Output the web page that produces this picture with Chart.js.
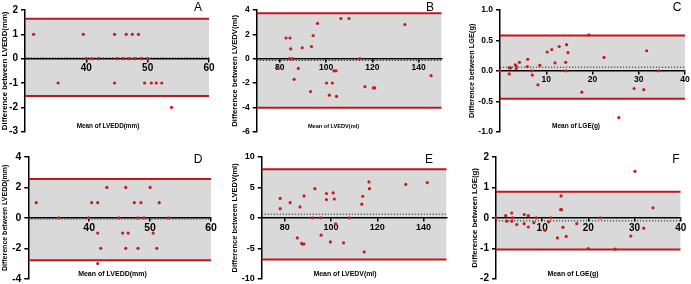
<!DOCTYPE html>
<html>
<head>
<meta charset="utf-8">
<script src="https://cdn.jsdelivr.net/npm/chart.js@4.4.0/dist/chart.umd.min.js"></script>
<style>
    html, body { margin: 0; padding: 0; background: #fff; }
    #wrap { position: relative; width: 691px; height: 284px; }
    .panel { position: absolute; }
</style>
</head>
<body>
<div id="wrap">
    <div class="panel" style="left:0;top:0;width:230px;height:142px"><canvas id="chartA"></canvas></div>
    <div class="panel" style="left:230px;top:0;width:230px;height:142px"><canvas id="chartB"></canvas></div>
    <div class="panel" style="left:460px;top:0;width:231px;height:142px"><canvas id="chartC"></canvas></div>
    <div class="panel" style="left:0;top:142px;width:230px;height:142px"><canvas id="chartD"></canvas></div>
    <div class="panel" style="left:230px;top:142px;width:230px;height:142px"><canvas id="chartE"></canvas></div>
    <div class="panel" style="left:460px;top:142px;width:231px;height:142px"><canvas id="chartF"></canvas></div>
</div>
<script>
// ---- data ----
// A: LVEDD (mm)
const aMean = [31.4, 35.4, 39.5, 40, 40.9, 42, 44.6, 44.6, 45, 46, 46.5, 47, 47.5, 47.9, 48.5, 49, 49.5, 50, 50.6, 51.4, 52.3, 53.9];
const aDiff = [1, -1, 1, 0, 0, 0, 1, -1, 0, 0, 1, 0, 1, 0, 1, 0, -1, 0, -1, -1, -1, -2];
const aLimits = [1.64, -1.53];
const aBias = 0.03;
const aXTicks = [40, 50, 60];
const aYTicks = [-3, -2, -1, 0, 1, 2];

// B: LVEDV (ml)
const bMean = [82.7, 84.4, 84.7, 84.1, 85.5, 79.3, 86.2, 88, 89.7, 93.3, 93.7, 94.4, 96.3, 100.2, 101.4, 102.7, 103.4, 104.3, 104.5, 106.4, 109.9, 114.6, 116.8, 120.4, 121, 134.1, 145.4];
const bDiff = [1.7, 1.7, 0.8, 0, 0, -0.8, -1.7, -0.8, 0.9, -2.7, 1.0, 1.9, 2.9, -2.0, -3.0, -2.0, -1.0, -1.0, -3.1, 3.3, 3.3, 0, -2.3, -2.4, -2.4, 2.8, -1.4];
const bLimits = [3.73, -4.03];
const bBias = -0.15;
const bXTicks = [80, 100, 120, 140];
const bYTicks = [-6, -4, -2, 0, 2, 4];

// C: LGE (g)
const cMean = [0, 2.0, 2.3, 2.0, 3.3, 3.5, 3.5, 4.2, 6.0, 5.9, 6.8, 7.0, 8.2, 8.6, 10.2, 11.2, 11.9, 12.8, 14.2, 14.4, 14.2, 14.7, 17.7, 19.2, 22.5, 25.7, 29.0, 31.1, 31.7, 34.3];
const cDiff = [0, 0.05, 0.05, -0.05, 0.1, 0.08, 0.04, 0.14, 0.19, 0.07, 0, -0.07, -0.23, 0.09, 0.31, 0.35, 0.13, 0.40, 0.14, 0.43, 0, 0.30, -0.35, 0.59, 0.22, -0.77, -0.29, -0.31, 0.33, 0];
const cLimits = [0.58, -0.46];
const cBias = 0.06;
const cXTicks = [10, 20, 30, 40];
const cYTicks = [-1, -0.5, 0, 0.5, 1];

// D: LVEDD (mm)
const dMean = [31.3, 35.0, 39.9, 40.4, 41.4, 41.4, 41.9, 41.4, 42.9, 44.9, 45.5, 46.0, 46.4, 46.0, 47.4, 48.0, 48.0, 48.5, 49.0, 50.0, 50.5, 51.1, 51.5, 53.0];
const dDiff = [1, 0, 0, 1, 1, -1, -2, -3, 2, 0, -1, 2, -1, -2, 1, 0, -2, 1, 0, 2, -1, -2, 1, 0];
const dLimits = [2.55, -2.78];
const dBias = -0.08;
const dXTicks = [40, 50, 60];
const dYTicks = [-4, -2, 0, 2, 4];

// E: LVEDV (ml)
const eMean = [78.0, 78.0, 82.3, 86.6, 88.3, 85.4, 87.3, 88.3, 87.6, 91.9, 93.0, 95.4, 95.7, 98.0, 98.0, 99.7, 100.9, 101.4, 102.0, 105.4, 107.9, 113.3, 113.7, 114.3, 116.6, 116.4, 132.3, 141.6];
const eDiff = [3.2, 1.5, 2.5, 1.8, 3.6, -3.3, -4.2, -4.3, -4.3, 0, 4.8, 0, -2.85, 4.0, 3.0, -3.95, 4.1, 3.1, -1.0, -4.1, 0, 2.25, 3.55, -5.6, 4.8, 5.9, 5.5, 5.8];
const eLimits = [8.0, -6.85];
const eBias = 0.6;
const eXTicks = [80, 100, 120, 140];
const eYTicks = [-10, -5, 0, 5, 10];

// F: LGE (g)
const fMean = [0, 2.1, 2.3, 3.4, 3.4, 3.6, 4.5, 6.1, 6.1, 7.0, 7.0, 8.2, 8.7, 10.6, 11.4, 11.9, 13.3, 14.0, 14.2, 14.1, 14.5, 15.2, 17.5, 20.0, 22.6, 25.8, 29.2, 30.1, 32.0, 34.0];
const fDiff = [0, 0.07, -0.11, 0.16, -0.11, 0, -0.22, 0.11, -0.19, 0.07, -0.3, -0.16, 0, -0.41, -0.13, 0, -0.66, 0.27, 0.27, 0.72, -0.31, -0.61, -0.19, -1.01, 0, -1.03, -0.6, 1.53, -0.34, 0.33];
const fLimits = [0.86, -1.04];
const fBias = -0.1;
const fXTicks = [10, 20, 30, 40];
const fYTicks = [-2, -1, 0, 1, 2];

const RED = '#c0161c';
const DOT = '#c41e1e';
const BAND = '#d9d9d9';
const FONT = '"Liberation Sans", Arial, sans-serif';

// panel letter + x title drawn inside the plot
const panelText = {
    id: 'panelText',
    afterDraw(chart, args, opts) {
        const ctx = chart.ctx;
        ctx.save();
        ctx.fillStyle = '#000';
        ctx.textAlign = 'center';
        ctx.textBaseline = 'middle';
        ctx.font = 'bold ' + opts.titleSize + 'px ' + FONT;
        ctx.fillText(opts.xTitle, opts.titleX, opts.titleY);
        ctx.font = '12px ' + FONT;
        ctx.fillText(opts.letter, opts.letterX, opts.letterY);
        ctx.restore();
    }
};

function makePanel(id, p) {
    const xMin = p.xRange[0], xMax = p.xRange[1];
    new Chart(document.getElementById(id), {
        type: 'scatter',
        data: {
            datasets: [
                {
                    data: p.mean.map((v, i) => ({ x: v, y: p.diff[i] })),
                    pointRadius: 1.6,
                    pointBackgroundColor: DOT,
                    pointBorderWidth: 0,
                    clip: 4
                },
                {
                    data: [{ x: xMin, y: p.bias }, { x: xMax, y: p.bias }],
                    showLine: true,
                    pointRadius: 0,
                    borderColor: '#222',
                    borderWidth: 1,
                    borderDash: [1.2, 1.8]
                },
                {
                    data: [{ x: xMin, y: p.limits[0] }, { x: xMax, y: p.limits[0] }],
                    showLine: true,
                    pointRadius: 0,
                    borderColor: RED,
                    borderWidth: 2,
                    fill: '+1',
                    backgroundColor: BAND
                },
                {
                    data: [{ x: xMin, y: p.limits[1] }, { x: xMax, y: p.limits[1] }],
                    showLine: true,
                    pointRadius: 0,
                    borderColor: RED,
                    borderWidth: 2,
                    fill: false
                }
            ]
        },
        options: {
            animation: false,
            responsive: true,
            maintainAspectRatio: false,
            events: [],
            layout: { padding: { left: 0, top: p.pad[0], right: p.pad[1], bottom: p.pad[2] } },
            scales: {
                x: {
                    type: 'linear',
                    position: { y: 0 },
                    min: xMin,
                    max: xMax,
                    afterBuildTicks: s => { s.ticks = p.xTicks.map(v => ({ value: v })); },
                    afterFit: s => { s.paddingLeft = 0; s.paddingRight = 0; },
                    ticks: { color: '#000', padding: 1, maxRotation: 0, font: { family: FONT, size: p.tickSize, weight: 'bold' } },
                    grid: { drawOnChartArea: false, drawTicks: true, tickLength: 3, color: '#000', lineWidth: 1.5 },
                    border: { color: '#000', width: 1.5 }
                },
                y: {
                    min: p.yTicks[0],
                    max: p.yTicks[p.yTicks.length - 1],
                    afterBuildTicks: s => { s.ticks = p.yTicks.map(v => ({ value: v })); },
                    afterFit: s => { s.width = p.axisX; s.paddingTop = 0; s.paddingBottom = 0; },
                    ticks: {
                        color: '#000', padding: 3,
                        font: { family: FONT, size: p.tickSize, weight: 'bold' },
                        callback: v => p.decimals ? v.toFixed(p.decimals) : String(v)
                    },
                    grid: { drawOnChartArea: false, drawTicks: true, tickLength: 4, color: '#000', lineWidth: 1.5 },
                    border: { color: '#000', width: 1.5 },
                    title: {
                        display: true,
                        text: p.yTitle,
                        color: '#000',
                        padding: { top: p.yTitlePad, bottom: 0 },
                        font: { family: FONT, size: p.yTitleSize, weight: 'bold' }
                    }
                }
            },
            plugins: {
                legend: { display: false },
                tooltip: { enabled: false },
                filler: { drawTime: 'beforeDraw' },
                panelText: {
                    xTitle: p.xTitle, titleSize: p.xTitleSize, titleX: p.xTitlePos[0], titleY: p.xTitlePos[1],
                    letter: p.letter, letterX: p.letterPos[0], letterY: p.letterPos[1]
                }
            }
        },
        plugins: [panelText]
    });
}

makePanel('chartA', {
    mean: aMean, diff: aDiff, limits: aLimits, bias: aBias, xRange: [30, 60], xTicks: aXTicks, yTicks: aYTicks,
    axisX: 25, pad: [10, 21, 10.3], tickSize: 10,
    yTitle: 'Difference between LVEDD(mm)', yTitleSize: 7.8, yTitlePad: 0,
    xTitle: 'Mean of LVEDD(mm)', xTitleSize: 6.4, xTitlePos: [108, 126],
    letter: 'A', letterPos: [198, 8]
});
makePanel('chartB', {
    mean: bMean, diff: bDiff, limits: bLimits, bias: bBias, xRange: [70, 150], xTicks: bXTicks, yTicks: bYTicks,
    axisX: 26.7, pad: [10, 18.3, 10.3], tickSize: 8.5,
    yTitle: 'Difference between LVEDV(ml)', yTitleSize: 7.7, yTitlePad: 0,
    xTitle: 'Mean of LVEDV(ml)', xTitleSize: 5.6, xTitlePos: [103.5, 126],
    letter: 'B', letterPos: [200, 8]
});
makePanel('chartC', {
    mean: cMean, diff: cDiff, limits: cLimits, bias: cBias, xRange: [0, 40], xTicks: cXTicks, yTicks: cYTicks,
    axisX: 40, pad: [10, 6, 10.3], tickSize: 8.5, decimals: 1,
    yTitle: 'Difference between LGE(g)', yTitleSize: 7.4, yTitlePad: 7.6,
    xTitle: 'Mean of LGE(g)', xTitleSize: 6.5, xTitlePos: [116, 126],
    letter: 'C', letterPos: [217, 8]
});
makePanel('chartD', {
    mean: dMean, diff: dDiff, limits: dLimits, bias: dBias, xRange: [30, 60], xTicks: dXTicks, yTicks: dYTicks,
    axisX: 28.3, pad: [15, 19, 5.3], tickSize: 10.5,
    yTitle: 'Difference between LVEDD(mm)', yTitleSize: 7, yTitlePad: 1,
    xTitle: 'Mean of LVEDD(mm)', xTitleSize: 7, xTitlePos: [112.5, 132],
    letter: 'D', letterPos: [198, 18]
});
makePanel('chartE', {
    mean: eMean, diff: eDiff, limits: eLimits, bias: eBias, xRange: [70, 150], xTicks: eXTicks, yTicks: eYTicks,
    axisX: 31.7, pad: [15, 13.3, 5.3], tickSize: 9,
    yTitle: 'Difference between LVEDV(ml)', yTitleSize: 7.5, yTitlePad: 0.8,
    xTitle: 'Mean of LVEDV(ml)', xTitleSize: 6.9, xTitlePos: [115, 132],
    letter: 'E', letterPos: [199, 18]
});
makePanel('chartF', {
    mean: fMean, diff: fDiff, limits: fLimits, bias: fBias, xRange: [0, 40], xTicks: fXTicks, yTicks: fYTicks,
    axisX: 36, pad: [15, 10.3, 5.3], tickSize: 10,
    yTitle: 'Difference between LGE(g)', yTitleSize: 7.8, yTitlePad: 10.6,
    xTitle: 'Mean of LGE(g)', xTitleSize: 6.9, xTitlePos: [113, 132],
    letter: 'F', letterPos: [216, 18]
});
</script>
</body>
</html>
